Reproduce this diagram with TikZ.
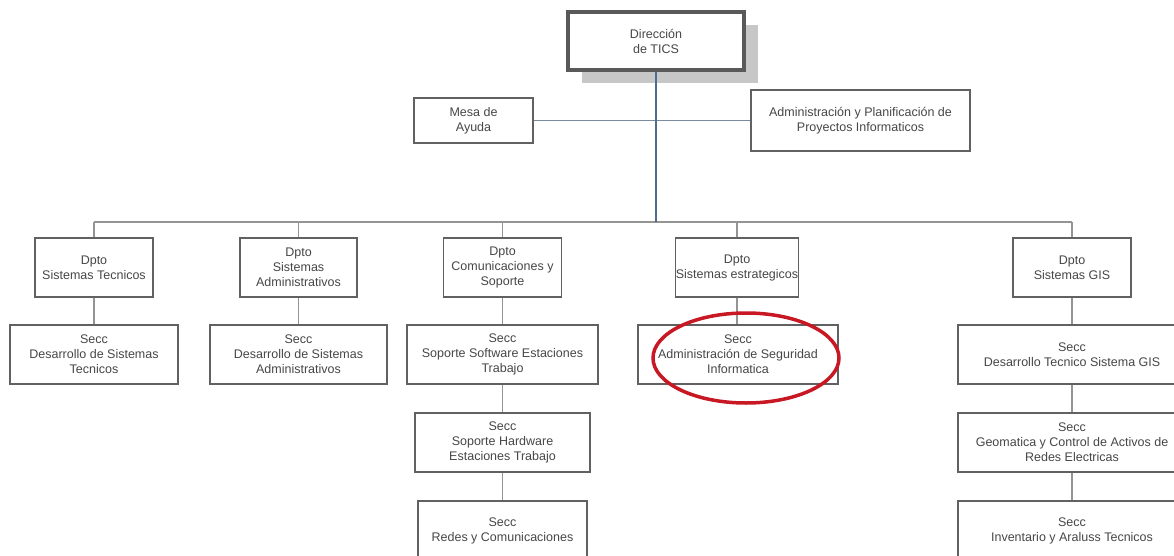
\documentclass[tikz,border=0pt]{standalone}
\usepackage{fontspec}
\setmainfont{Liberation Sans}
\definecolor{trunkblue}{RGB}{78,108,142}
\definecolor{staffline}{RGB}{120,138,156}
\definecolor{ringred}{RGB}{200,24,36}
\begin{document}
\begin{tikzpicture}[x=1pt,y=-1pt,
  every node/.style={font=\fontsize{12.5}{15}\selectfont, text=black!72, align=center, inner sep=0pt},
  unit/.style={draw=black!62, line width=1.2pt, fill=white},
  head/.style={draw=black!65, line width=3.5pt, fill=white},
  link/.style={draw=black!42, line width=1.1pt},
  trunk/.style={draw=trunkblue, line width=2.2pt},
  staff/.style={draw=staffline, line width=1.2pt},
  mark ring/.style={draw=ringred, line width=3.5pt}]
\useasboundingbox (0,0) rectangle (1174,556);
\fill[white] (0,0) rectangle (1174,556);

% head office with its drop shadow
\fill[black!22] (582,25) rectangle (758,83);
\node[head, minimum width=176pt, minimum height=58pt] (dir) at (656,41) {Dirección\\de TICS};

% staff units
\node[unit, minimum width=119pt, minimum height=45pt] (mesa) at (473.5,120.5) {Mesa de\\Ayuda};
\node[unit, minimum width=219pt, minimum height=61pt] (plan) at (860.5,120.5) {Administración y Planificación de\\Proyectos Informaticos};

% departments
\node[unit, minimum width=118pt, minimum height=59pt] (d1) at (94,267.5) {Dpto\\Sistemas Tecnicos};
\node[unit, minimum width=117pt, minimum height=59pt] (d2) at (298.5,267.5) {Dpto\\Sistemas\\Administrativos};
\node[unit, minimum width=118pt, minimum height=59pt] (d3) at (502.5,267.5) {Dpto\\Comunicaciones y\\Soporte};
\node[unit, minimum width=118pt, minimum height=59pt] (d4) at (737,267.5) {Dpto\\Sistemas estrategicos};
\node[unit, minimum width=118pt, minimum height=59pt] (d5) at (1072,267.5) {Dpto\\Sistemas GIS};

% sections
\node[unit, minimum width=168pt, minimum height=59pt] (s1) at (94,354.5) {Secc\\Desarrollo de Sistemas\\Tecnicos};
\node[unit, minimum width=177pt, minimum height=59pt] (s2) at (298.5,354.5) {Secc\\Desarrollo de Sistemas\\Administrativos};
\node[unit, minimum width=191pt, minimum height=59pt] (s3a) at (502.5,354.5) {Secc\\Soporte Software Estaciones\\Trabajo};
\node[unit, minimum width=175pt, minimum height=59pt] (s3b) at (502.5,442.5) {Secc\\Soporte Hardware\\Estaciones Trabajo};
\node[unit, minimum width=169pt, minimum height=59pt] (s3c) at (502.5,530.5) {Secc\\Redes y Comunicaciones};
\node[unit, minimum width=200pt, minimum height=59pt] (s4) at (738,354.5) {Secc\\Administración de Seguridad\\Informatica};
\node[unit, minimum width=228pt, minimum height=59pt] (s5a) at (1072,354.5) {Secc\\Desarrollo Tecnico Sistema GIS};
\node[unit, minimum width=228pt, minimum height=59pt] (s5b) at (1072,442.5) {Secc\\Geomatica y Control de Activos de\\Redes Electricas};
\node[unit, minimum width=228pt, minimum height=59pt] (s5c) at (1072,530.5) {Secc\\Inventario y Araluss Tecnicos};

% branch level of the tree
\coordinate (bus) at (656,222);
\coordinate (busL) at (94,222);
\coordinate (busR) at (1072,222);

% connectors
\draw[staff] (mesa.east) -- (plan.west);
\draw[link] (busL) -- (busR);
\foreach \d in {d1,d2,d3,d4,d5} \draw[link] (\d.north |- bus) -- (\d.north);
\draw[link] (d1.south) -- (s1.north);
\draw[link] (d2.south) -- (s2.north);
\draw[link] (d3.south) -- (s3a.north);
\draw[link] (s3a.south) -- (s3b.north);
\draw[link] (s3b.south) -- (s3c.north);
\draw[link] (d4.south) -- (s4.north -| d4.south);
\draw[link] (d5.south) -- (s5a.north);
\draw[link] (s5a.south) -- (s5b.north);
\draw[link] (s5b.south) -- (s5c.north);
\draw[trunk] (dir.south) -- (bus);

% highlight ring
\draw[mark ring] (746,358) ellipse [x radius=93, y radius=45];
\end{tikzpicture}
\end{document}
